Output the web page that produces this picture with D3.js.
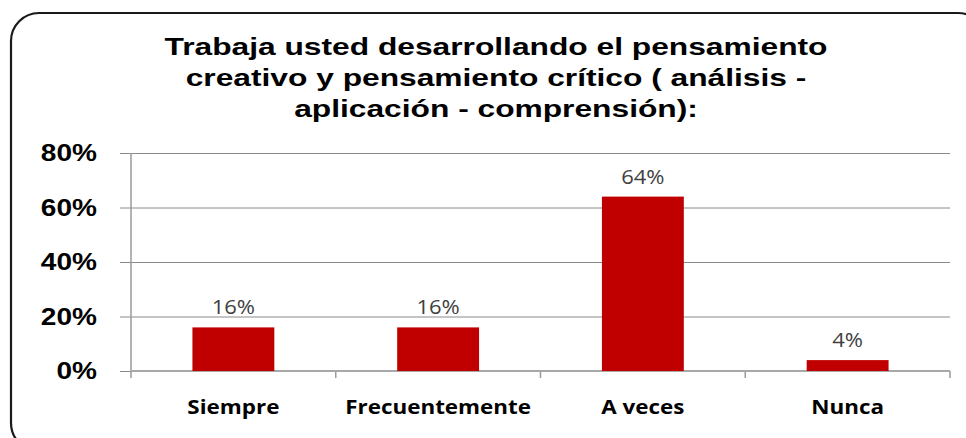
<!DOCTYPE html>
<html>
<head>
<meta charset="utf-8">
<script src="https://cdn.jsdelivr.net/npm/d3@7"></script>
<style>
  html, body { margin: 0; padding: 0; background: #ffffff; }
  svg { display: block; }
</style>
</head>
<body>
<svg id="chart" width="966" height="438"></svg>
<script>
// ---- data ----
const titleLines = [
  "Trabaja usted desarrollando el pensamiento",
  "creativo y pensamiento crítico ( análisis -",
  "aplicación - comprensión):"
];
const categories = ["Siempre", "Frecuentemente", "A veces", "Nunca"];
const values = [16, 16, 64, 4];
const yTicks = [0, 20, 40, 60, 80];

// ---- drawing ----
const W = 966, H = 438;
const svg = d3.select("#chart");
svg.append("rect").attr("width", W).attr("height", H).attr("fill", "#ffffff");

// outer frame
svg.append("rect")
  .attr("x", 11).attr("y", 13).attr("width", 975).attr("height", 438)
  .attr("rx", 28).attr("ry", 28)
  .attr("fill", "none").attr("stroke", "#1a1a1a").attr("stroke-width", 2.2);

const plot = { left: 131, right: 950, top: 153, bottom: 371 };

const x = d3.scaleBand()
  .domain(categories)
  .range([plot.left, plot.right])
  .paddingInner(0.6)
  .paddingOuter(0.3);

const y = d3.scaleLinear().domain([0, 80]).range([plot.bottom, plot.top]);

// helper for horizontally stretched text
function stretchedText(parent, tx, ty, str, sx) {
  const g = parent.append("g").attr("transform", `translate(${tx},${ty}) scale(${sx},1)`);
  return g.append("text").attr("x", 0).attr("y", 0).text(str);
}

// gridlines via axis
const gy = svg.append("g")
  .attr("transform", `translate(${plot.right},0)`)
  .call(d3.axisRight(y).tickValues(yTicks).tickSize(-(plot.right - plot.left + 11)).tickFormat(""));
gy.select(".domain").remove();
gy.selectAll(".tick line").attr("stroke", "#8a8a8a").attr("stroke-width", 1);

// category boundary ticks
const step = x.step();
const boundaries = d3.range(categories.length + 1).map(i => plot.left + i * step);
svg.append("g").selectAll("line").data(boundaries).join("line")
  .attr("x1", d => d).attr("x2", d => d)
  .attr("y1", (d, i) => i === 0 ? plot.top : plot.bottom)
  .attr("y2", plot.bottom + 7)
  .attr("stroke", "#9a9a9a").attr("stroke-width", 1.5);

// bottom axis line
svg.append("line")
  .attr("x1", plot.left).attr("x2", plot.right)
  .attr("y1", plot.bottom).attr("y2", plot.bottom)
  .attr("stroke", "#a8a8a8").attr("stroke-width", 2);

// bars
svg.append("g").selectAll("rect").data(values).join("rect")
  .attr("x", (d, i) => x(categories[i]))
  .attr("y", d => y(d))
  .attr("width", x.bandwidth())
  .attr("height", d => y(0) - y(d))
  .attr("fill", "#c00000");

// data labels
const dl = svg.append("g")
  .attr("font-family", "'Open Sans', 'DejaVu Sans', sans-serif")
  .attr("font-size", 20).attr("fill", "#404040").attr("text-anchor", "middle");
values.forEach((v, i) => {
  stretchedText(dl, x(categories[i]) + x.bandwidth() / 2, y(v) - 13, v + "%", 1.1);
});

// y tick labels
const yl = svg.append("g")
  .attr("font-family", "'Liberation Sans', Arial, sans-serif")
  .attr("font-weight", "bold").attr("font-size", 23).attr("fill", "#000")
  .attr("text-anchor", "end");
yTicks.forEach(t => {
  stretchedText(yl, 97, y(t) + 8, t + "%", 1.22);
});

// category labels
const cl = svg.append("g")
  .attr("font-family", "'Open Sans', 'DejaVu Sans', sans-serif")
  .attr("font-weight", "bold").attr("font-size", 19).attr("fill", "#000")
  .attr("text-anchor", "middle");
categories.forEach(c => {
  stretchedText(cl, x(c) + x.bandwidth() / 2, 414, c, 1.18);
});

// title
const tl = svg.append("g")
  .attr("font-family", "'Liberation Sans', Arial, sans-serif")
  .attr("font-weight", "bold").attr("font-size", 23).attr("fill", "#000")
  .attr("text-anchor", "middle");
titleLines.forEach((line, i) => {
  stretchedText(tl, 496, 55 + i * 31, line, 1.38);
});
</script>
</body>
</html>
